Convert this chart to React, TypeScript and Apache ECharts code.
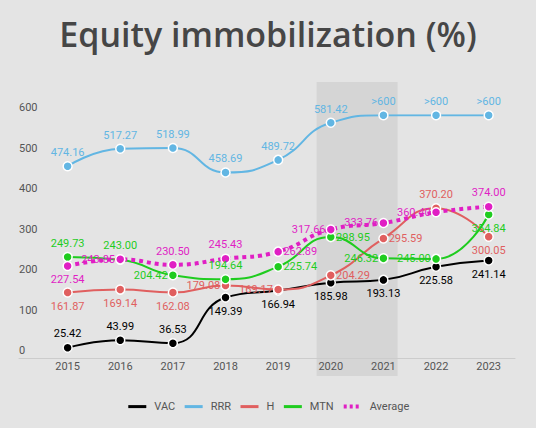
import React, { useEffect, useRef } from 'react';
import * as echarts from 'echarts';

const years = ['2015', '2016', '2017', '2018', '2019', '2020', '2021', '2022', '2023'];
const VAC = [25.42, 43.99, 36.53, 149.39, 166.94, 185.98, 193.13, 225.58, 241.14];
const RRR = [474.16, 517.27, 518.99, 458.69, 489.72, 581.42, 600, 600, 600];
const H = [161.87, 169.14, 162.08, 179.08, 169.17, 204.29, 295.59, 370.2, 300.05];
const MTN = [249.73, 243.0, 204.42, 194.64, 225.74, 298.95, 246.32, 245.0, 354.84];
const AVERAGE = [227.54, 243.85, 230.5, 245.43, 262.89, 317.66, 333.76, 360.4, 374.0];
const RRR_CAP = 600;
const highlightYears = [2019.73, 2021.27];

// label placement (style only)
const posVAC = ['top', 'top', 'top', 'bottom', 'bottom', 'bottom', 'bottom', 'bottom', 'bottom'];
const posRRR = ['top', 'top', 'top', 'top', 'top', 'top', 'top', 'top', 'top'];
const posH = ['bottom', 'bottom', 'bottom', 'left', 'left', 'right', 'right', 'top', 'bottom'];
const posMTN = ['top', 'top', 'left', 'top', 'right', 'right', 'left', 'left', 'bottom'];
const posAVG = ['bottom', 'left', 'top', 'top', 'right', 'left', 'left', 'left', 'top'];

const FONT = 'Roboto';
const GRID_LEFT = 41.3;
const GRID_RIGHT = 21;
const GRID_TOP = 115.3;
const GRID_BOTTOM = 70;

function mkSeries(name: string, values: number[], color: string, positions: string[], extra: any = {}) {
  return {
    name,
    type: 'line',
    xAxisIndex: 0,
    yAxisIndex: 0,
    smooth: true,
    symbol: 'circle',
    symbolSize: 9,
    z: 3,
    data: values.map((v, i) => ({
      value: v,
      label: {
        position: positions[i],
        distance: positions[i] === 'top' || positions[i] === 'bottom' ? 3 : 0,
      },
    })),
    lineStyle: { color, width: 2 },
    itemStyle: { color, borderColor: '#ffffff', borderWidth: 1.5 },
    label: {
      show: true,
      color,
      fontFamily: FONT,
      fontSize: 11,
      formatter: (p: any) => (name === 'RRR' && p.value >= RRR_CAP ? '>600' : Number(p.value).toFixed(2)),
    },
    ...extra,
  };
}

export default function App() {
  const ref = useRef<HTMLDivElement>(null);
  useEffect(() => {
    document.body.style.margin = '0';
    if (!ref.current) return;
    const chart = echarts.init(ref.current, undefined, { renderer: 'svg' });
    chart.setOption({
      animation: false,
      backgroundColor: '#e4e4e4',
      title: {
        text: 'Equity immobilization (%)',
        left: 'center',
        top: 12,
        textStyle: { fontFamily: 'Open Sans', fontWeight: 600, fontSize: 34, color: '#464646' },
      },
      legend: {
        top: 395,
        left: 'center',
        itemWidth: 18,
        itemHeight: 14,
        itemGap: 8,
        itemStyle: { opacity: 0 },
        lineStyle: { width: 3 },
        textStyle: { color: '#555555', fontSize: 11, fontFamily: FONT, padding: [0, 0, 0, 3] },
        data: ['VAC', 'RRR', 'H', 'MTN', { name: 'Average', lineStyle: { width: 4, type: [3, 3] } }],
      },
      grid: [
        { left: GRID_LEFT, right: GRID_RIGHT, top: GRID_TOP, bottom: GRID_BOTTOM },
        { left: GRID_LEFT, right: GRID_RIGHT, top: 82, bottom: 52 },
        { left: 19, right: GRID_RIGHT, top: GRID_TOP, bottom: GRID_BOTTOM },
      ],
      xAxis: [
        {
          type: 'category',
          gridIndex: 0,
          data: years,
          z: 5,
          axisLine: { show: false },
          axisTick: { show: false },
          axisLabel: { color: '#555555', fontFamily: FONT, fontSize: 11, margin: 3 },
        },
        { type: 'value', gridIndex: 1, min: 2014.5, max: 2023.5, show: false },
        {
          type: 'category',
          gridIndex: 2,
          data: years,
          z: 1.5,
          axisLine: { show: true, lineStyle: { color: '#cccccc', width: 1 } },
          axisTick: { show: false },
          axisLabel: { show: false },
        },
      ],
      yAxis: [
        {
          type: 'value',
          gridIndex: 0,
          min: 0,
          max: 600,
          interval: 100,
          splitLine: { show: false },
          axisLine: { show: false },
          axisTick: { show: false },
          axisLabel: {
            color: '#555555',
            fontFamily: FONT,
            fontSize: 11,
            align: 'left',
            verticalAlign: 'bottom',
            margin: GRID_LEFT - 19,
            padding: [0, 0, 2, 0],
          },
        },
        { type: 'value', gridIndex: 1, min: 0, max: 1, show: false },
        { type: 'value', gridIndex: 2, min: 0, max: 1, show: false },
      ],
      series: [
        {
          name: 'highlight',
          type: 'line',
          xAxisIndex: 1,
          yAxisIndex: 1,
          z: 1,
          data: [[2015, 0]],
          showSymbol: false,
          symbol: 'none',
          lineStyle: { opacity: 0 },
          silent: true,
          markArea: {
            silent: true,
            itemStyle: { color: '#d5d5d5' },
            data: [[{ xAxis: highlightYears[0] }, { xAxis: highlightYears[1] }]],
          },
        },
        mkSeries('VAC', VAC, '#000000', posVAC),
        mkSeries('RRR', RRR, '#62b6e3', posRRR),
        mkSeries('H', H, '#e05f5f', posH),
        mkSeries('MTN', MTN, '#1fcc1f', posMTN),
        mkSeries('Average', AVERAGE, '#e01fc4', posAVG, {
          lineStyle: { color: '#e01fc4', width: 4, type: [4, 4] },
        }),
      ],
    });
    return () => chart.dispose();
  }, []);
  return <div ref={ref} style={{ width: 536, height: 428 }} />;
}
